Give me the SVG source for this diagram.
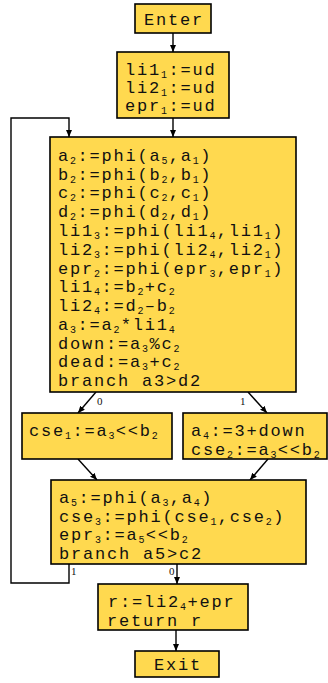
<svg xmlns="http://www.w3.org/2000/svg" width="328" height="683" viewBox="0 0 328 683">
<style>
.box{fill:#FFD94F;stroke:#000;stroke-width:1.6}
.t{font-family:"Liberation Mono","Courier New",monospace;font-size:17px;letter-spacing:1.8px;fill:#111}
.s{font-size:10px;letter-spacing:1.4px;baseline-shift:-3px}
.e{fill:none;stroke:#000;stroke-width:1.4}
.l{font-family:"Liberation Serif",serif;font-size:11px;fill:#111}
</style>
<defs>
<marker id="ah" markerWidth="7" markerHeight="6" refX="7" refY="3" orient="auto" markerUnits="userSpaceOnUse">
<path d="M0,0 L7,3 L0,6 z" fill="#000"/>
</marker>
</defs>
<rect width="328" height="683" fill="#fff"/>
<g id="connectors">
<path class="e" d="M173,33 L173,52" marker-end="url(#ah)"/>
<path class="e" d="M173,118 L173,137" marker-end="url(#ah)"/>
<path class="e" d="M69,564 L69,583 L11,583 L11,118 L69,118 L69,137" marker-end="url(#ah)"/>
<path class="e" d="M96,392 L78,413" marker-end="url(#ah)"/>
<path class="e" d="M248,392 L267,413" marker-end="url(#ah)"/>
<path class="e" d="M78,459 L97,480" marker-end="url(#ah)"/>
<path class="e" d="M268,459 L250,480" marker-end="url(#ah)"/>
<path class="e" d="M177,564 L177,584" marker-end="url(#ah)"/>
<path class="e" d="M176,630 L176,651" marker-end="url(#ah)"/>
<text class="l" x="97" y="405">0</text>
<text class="l" x="240" y="405">1</text>
<text class="l" x="71" y="575">1</text>
<text class="l" x="169" y="575">0</text>
</g>
<g id="enter">
<rect class="box" x="135" y="4" width="76" height="29"/>
<text class="t" x="173.9" y="25" text-anchor="middle">Enter</text>
</g>
<g id="init">
<rect class="box" x="117" y="52" width="112" height="66"/>
<text class="t" x="125" y="75">li1<tspan class="s">1</tspan>:=ud</text>
<text class="t" x="125" y="93">li2<tspan class="s">1</tspan>:=ud</text>
<text class="t" x="125" y="111">epr<tspan class="s">1</tspan>:=ud</text>
</g>
<g id="loop">
<rect class="box" x="50" y="137" width="246" height="255"/>
<text class="t" x="58" y="161">a<tspan class="s">2</tspan>:=phi(a<tspan class="s">5</tspan>,a<tspan class="s">1</tspan>)</text>
<text class="t" x="58" y="180">b<tspan class="s">2</tspan>:=phi(b<tspan class="s">2</tspan>,b<tspan class="s">1</tspan>)</text>
<text class="t" x="58" y="198">c<tspan class="s">2</tspan>:=phi(c<tspan class="s">2</tspan>,c<tspan class="s">1</tspan>)</text>
<text class="t" x="58" y="217">d<tspan class="s">2</tspan>:=phi(d<tspan class="s">2</tspan>,d<tspan class="s">1</tspan>)</text>
<text class="t" x="58" y="236">li1<tspan class="s">3</tspan>:=phi(li1<tspan class="s">4</tspan>,li1<tspan class="s">1</tspan>)</text>
<text class="t" x="58" y="255">li2<tspan class="s">3</tspan>:=phi(li2<tspan class="s">4</tspan>,li2<tspan class="s">1</tspan>)</text>
<text class="t" x="58" y="274">epr<tspan class="s">2</tspan>:=phi(epr<tspan class="s">3</tspan>,epr<tspan class="s">1</tspan>)</text>
<text class="t" x="58" y="292">li1<tspan class="s">4</tspan>:=b<tspan class="s">2</tspan>+c<tspan class="s">2</tspan></text>
<text class="t" x="58" y="311">li2<tspan class="s">4</tspan>:=d<tspan class="s">2</tspan>–b<tspan class="s">2</tspan></text>
<text class="t" x="58" y="330">a<tspan class="s">3</tspan>:=a<tspan class="s">2</tspan>*li1<tspan class="s">4</tspan></text>
<text class="t" x="58" y="349">down:=a<tspan class="s">3</tspan>%c<tspan class="s">2</tspan></text>
<text class="t" x="58" y="367">dead:=a<tspan class="s">3</tspan>+c<tspan class="s">2</tspan></text>
<text class="t" x="58" y="386">branch a3&gt;d2</text>
</g>
<g id="left">
<rect class="box" x="22" y="413" width="150" height="46"/>
<text class="t" x="29" y="436">cse<tspan class="s">1</tspan>:=a<tspan class="s">3</tspan>&lt;&lt;b<tspan class="s">2</tspan></text>
</g>
<g id="right">
<rect class="box" x="183" y="413" width="144" height="46"/>
<text class="t" x="191" y="435.5">a<tspan class="s">4</tspan>:=3+down</text>
<text class="t" x="191" y="454.5">cse<tspan class="s">2</tspan>:=a<tspan class="s">3</tspan>&lt;&lt;b<tspan class="s">2</tspan></text>
</g>
<g id="join">
<rect class="box" x="51" y="480" width="255" height="84"/>
<text class="t" x="59" y="503">a<tspan class="s">5</tspan>:=phi(a<tspan class="s">3</tspan>,a<tspan class="s">4</tspan>)</text>
<text class="t" x="59" y="521.5">cse<tspan class="s">3</tspan>:=phi(cse<tspan class="s">1</tspan>,cse<tspan class="s">2</tspan>)</text>
<text class="t" x="59" y="540">epr<tspan class="s">3</tspan>:=a<tspan class="s">5</tspan>&lt;&lt;b<tspan class="s">2</tspan></text>
<text class="t" x="59" y="559">branch a5&gt;c2</text>
</g>
<g id="ret">
<rect class="box" x="98" y="584" width="150" height="46"/>
<text class="t" x="108" y="606.5">r:=li2<tspan class="s">4</tspan>+epr</text>
<text class="t" x="107" y="625.5">return r</text>
</g>
<g id="exit">
<rect class="box" x="135" y="651" width="84" height="26"/>
<text class="t" x="177.9" y="670" text-anchor="middle">Exit</text>
</g>
</svg>
